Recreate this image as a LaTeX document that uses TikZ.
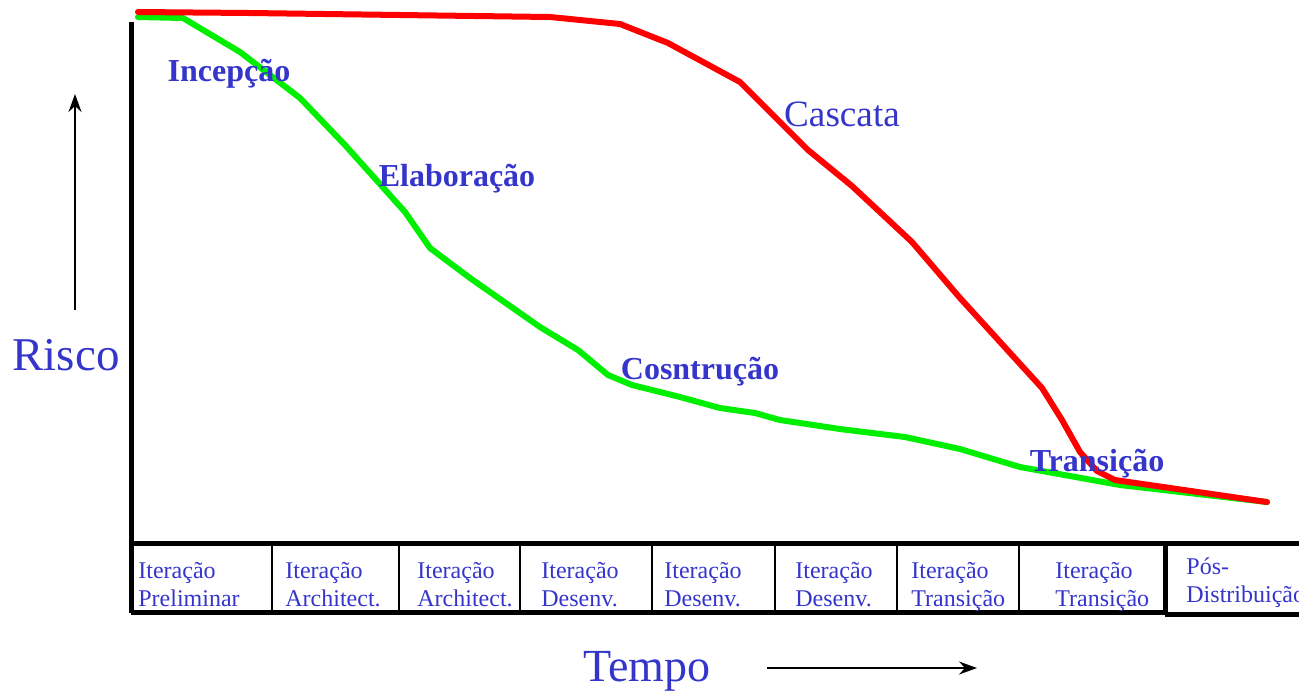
\documentclass[tikz,border=0pt]{standalone}
\usepackage{fontspec}
\setmainfont{Liberation Serif}
\usetikzlibrary{arrows.meta}
\definecolor{txtblue}{HTML}{3535CC}
\definecolor{cred}{HTML}{FF0000}
\definecolor{cgreen}{HTML}{00EE00}
\tikzset{
  phase/.style={text=txtblue, font=\fontsize{16}{18}\selectfont\bfseries, inner sep=0pt},
  boxtxt/.style={text=txtblue, font=\fontsize{12}{14}\selectfont, align=left, anchor=north west, inner sep=0pt},
  bigtxt/.style={text=txtblue, inner sep=0pt},
  axisline/.style={line width=2.5pt, black},
  thinline/.style={line width=1pt, black},
  curve/.style={line width=3pt, line join=round, line cap=round},
  arr/.style={line width=0.8pt, -{Stealth[length=9pt,width=6.5pt,inset=3pt]}}
}
\begin{document}
\begin{tikzpicture}[x=0.5pt,y=-0.5pt]
\useasboundingbox (0,0) rectangle (1299,693);
\clip (0,0) rectangle (1299,693);
% curves
\draw[curve, cgreen] (138,17) -- (183,18) -- (240,52) -- (300,98) -- (345,145) -- (405,212) -- (430,248) -- (470,278) -- (540,327) -- (578,350) -- (608,375) -- (632,385) -- (680,397) -- (720,408) -- (755,413) -- (780,420) -- (840,429) -- (905,437) -- (960,449) -- (1020,467) -- (1120,485) -- (1267,502);
\draw[curve, cred] (138,12) -- (250,13) -- (550,17) -- (620,24) -- (668,43) -- (740,82) -- (808,150) -- (852,186) -- (912,242) -- (960,298) -- (1042,388) -- (1062,420) -- (1080,452) -- (1097,471) -- (1115,480) -- (1267,502);
% axes
\draw[axisline] (131,22) -- (131,613);
\draw[axisline] (131,543) -- (1299,543);
\draw[axisline] (131,612) -- (1165,612);
\draw[axisline] (1165,543) -- (1165,614);
\draw[axisline] (1165,614) -- (1299,614);
% dividers
\foreach \x in {272,399,520,652,775,897,1019} \draw[thinline] (\x,544) -- (\x,611);
% box texts
\node[boxtxt] (b1) at (138,562) {Iteração\\Preliminar};
\node[boxtxt] (b2) at (285,562) {Iteração\\Architect.};
\node[boxtxt] (b3) at (417,562) {Iteração\\Architect.};
\node[boxtxt] (b4) at (541,562) {Iteração\\Desenv.};
\node[boxtxt] (b5) at (664,562) {Iteração\\Desenv.};
\node[boxtxt] (b6) at (795,562) {Iteração\\Desenv.};
\node[boxtxt] (b7) at (911,562) {Iteração\\Transição};
\node[boxtxt] (b8) at (1055,562) {Iteração\\Transição};
\node[boxtxt] (b9) at (1186,557) {Pós-\\Distribuição};
% phase labels
\node[phase] (inc) at (229,74) {Incepção};
\node[phase] (ela) at (457,179) {Elaboração};
\node[phase] (con) at (700,372) {Cosntrução};
\node[phase] (tra) at (1097,464) {Transição};
\node[bigtxt, font=\fontsize{18.6}{20}\selectfont] (cas) at (842,114) {Cascata};
% axis titles
\node[bigtxt, font=\fontsize{23.5}{26}\selectfont] (risco) at (66,355) {Risco};
\node[bigtxt, font=\fontsize{23}{26}\selectfont] (tempo) at (647,671) {Tempo};
\coordinate (ra0) at (75,310);
\coordinate (ra1) at (75,94);
\coordinate (ta0) at (767,668);
\coordinate (ta1) at (977,668);
\draw[arr] (ra0) -- (ra1);
\draw[arr] (ta0) -- (ta1);
\end{tikzpicture}
\end{document}
